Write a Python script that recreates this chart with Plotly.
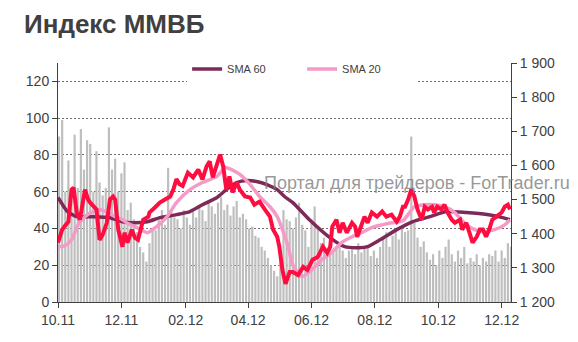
import pandas as pd
import plotly.graph_objects as go

BASE = pd.Timestamp("2011-10-01")

# MICEX index (right axis), day offsets from 2011-10-01
index_day = [0,4,7,10,13,15,18,21,26,29,31,34,37,40,43,47,50,53,55,58,62,64,67,71,74,77,82,87,88,93,
             98,103,108,111,114,117,120,125,130,135,139,143,146,149,153,156,159,162,165,168,172,175,180,185,189,194,199,204,207,211,
             213,216,219,223,226,231,236,240,245,250,255,259,262,264,268,271,274,278,283,286,288,292,295,298,302,307,312,316,321,326,
             329,332,334,337,340,343,346,350,353,356,360,362,365,369,372,375,379,382,387,389,393,396,399,403,406,409,412,415,418,422,
             427,430,433,435]
index_val = [1374,1412,1424,1435,1529,1535,1462,1441,1529,1500,1491,1479,1471,1382,1397,1432,1500,1509,1500,1412,
             1362,1403,1374,1412,1388,1382,1441,1450,1462,1476,1491,1500,1509,1529,1560,1545,1540,1579,1565,1588,
             1559,1597,1612,1565,1609,1632,1597,1529,1568,1521,1550,1529,1509,1506,1485,1494,1471,1450,1412,1391,
             1362,1294,1253,1288,1288,1279,1303,1294,1324,1332,1362,1344,1362,1421,1441,1403,1432,1403,1432,1421,
             1391,1421,1450,1432,1462,1450,1465,1450,1456,1435,1450,1479,1479,1500,1529,1509,1471,1441,1479,1471,
             1479,1462,1479,1471,1485,1462,1441,1432,1441,1412,1432,1403,1374,1391,1412,1412,1391,1412,1441,1450,
             1462,1479,1485,1471]

# SMA 60 (right axis)
sma60_day = [0,5,9,18,34,50,62,72,86,98,114,127,139,153,162,172,182,191,201,211,218,226,242,262,276,290,298,310,
             326,341,358,374,393,413,428,435]
sma60_val = [1506,1482,1465,1450,1450,1447,1435,1432,1435,1447,1456,1465,1485,1506,1529,1550,1556,1553,1544,1529,
             1509,1491,1441,1388,1362,1359,1362,1382,1412,1435,1450,1465,1462,1456,1447,1441]

# SMA 20 (right axis)
sma20_day = [0,7,13,19,26,34,40,48,55,62,66,76,86,95,105,114,127,139,153,161,167,175,185,194,204,211,216,221,226,
             235,244,254,263,273,283,292,302,312,321,332,343,353,362,372,382,391,401,411,420,430,435]
sma20_val = [1362,1365,1382,1424,1450,1465,1471,1462,1450,1441,1432,1418,1403,1421,1450,1491,1529,1550,1568,1594,
             1588,1574,1544,1509,1479,1450,1412,1368,1309,1274,1294,1324,1344,1374,1391,1403,1418,1426,1432,1438,
             1479,1485,1485,1479,1462,1432,1412,1406,1412,1426,1441]

# Volume bars (left axis), one bar every three days from 2011-10-02
volume = [90,99,60,77,55,91,62,94,72,88,86,60,82,65,58,62,95,72,78,60,
          70,76,50,54,45,38,30,27,22,32,40,39,45,50,42,73,50,46,45,40,
          50,46,42,50,46,52,50,44,55,52,48,54,57,50,53,47,52,55,46,48,
          45,40,41,36,35,30,28,24,20,17,14,22,50,45,44,40,46,54,42,39,
          30,45,52,40,32,35,28,33,27,30,32,28,24,28,30,26,32,27,30,30,
          25,28,24,30,35,38,30,36,40,34,41,38,39,90,43,35,30,33,27,23,
          26,20,28,24,30,34,26,22,28,24,30,21,24,22,26,20,24,22,26,25,
          28,22,28,24,32,30]

x_ticks_fmt = "%m.%y"

index_dates = BASE + pd.to_timedelta(index_day, unit="D")
sma60_dates = BASE + pd.to_timedelta(sma60_day, unit="D")
sma20_dates = BASE + pd.to_timedelta(sma20_day, unit="D")
vol_dates = pd.date_range("2011-10-02", periods=len(volume), freq="3D")

FONT = "Liberation Sans"
AX = "#404040"

fig = go.Figure()
fig.add_trace(go.Bar(x=vol_dates, y=volume, marker=dict(color="#BEBEBE", line=dict(width=0)),
                     showlegend=False, yaxis="y"))
fig.add_trace(go.Scatter(x=sma60_dates, y=sma60_val, mode="lines", name="SMA 60",
                         line=dict(color="#7D2A58", width=3.5, shape="spline", smoothing=0.6), yaxis="y2"))
fig.add_trace(go.Scatter(x=sma20_dates, y=sma20_val, mode="lines", name="SMA 20",
                         line=dict(color="#F59AC6", width=3.5, shape="spline", smoothing=0.6), yaxis="y2"))
fig.add_trace(go.Scatter(x=index_dates, y=index_val, mode="lines", name="ММВБ", showlegend=False,
                         line=dict(color="#FF0D40", width=4), yaxis="y2"))

fig.update_layout(
    width=578, height=342,
    margin=dict(l=58, r=67, t=63, b=40),
    paper_bgcolor="white", plot_bgcolor="white",
    bargap=0.3,
    font=dict(family=FONT, size=14, color=AX),
    title=dict(text="<b>Индекс ММВБ</b>", font=dict(family=FONT, size=26, color="#404040"),
               xref="container", x=24/578, xanchor="left", yref="container", y=1-24/342, yanchor="middle"),
    xaxis=dict(type="date", range=["2011-10-01", "2012-12-10"], tick0="2011-10-01", dtick="M2",
               tickformat=x_ticks_fmt, showgrid=False, showline=True, linecolor=AX, linewidth=1,
               ticks="outside", ticklen=5, tickcolor=AX, tickfont=dict(size=14, color=AX), zeroline=False),
    yaxis=dict(range=[0, 130], tick0=0, dtick=20, showline=True, linecolor=AX, linewidth=1,
               ticks="outside", ticklen=5, tickcolor=AX, showgrid=True, gridcolor="#6E6E6E",
               griddash="2px,2px", gridwidth=1, zeroline=False, tickfont=dict(size=14, color=AX)),
    yaxis2=dict(range=[1200, 1900], dtick=100, overlaying="y", side="right", showline=True,
                linecolor=AX, linewidth=1, ticks="outside", ticklen=5, tickcolor=AX, showgrid=False,
                zeroline=False, separatethousands=True, tickformat=",d",
                tickfont=dict(size=14, color=AX)),
    separators=". ",
    legend=dict(orientation="h", x=0.285, xanchor="left", y=0.975, yanchor="middle",
                bgcolor="white", font=dict(size=11, color="#404040"),
                entrywidth=70, traceorder="normal"),
    annotations=[dict(text="Портал для трейдеров - ForTrader.ru", xref="paper", yref="paper",
                      x=0.45, y=0.50, xanchor="left", yanchor="middle", showarrow=False,
                      font=dict(family=FONT, size=18, color="rgba(125,125,125,0.8)"))],
)

fig.write_html("out.html")
